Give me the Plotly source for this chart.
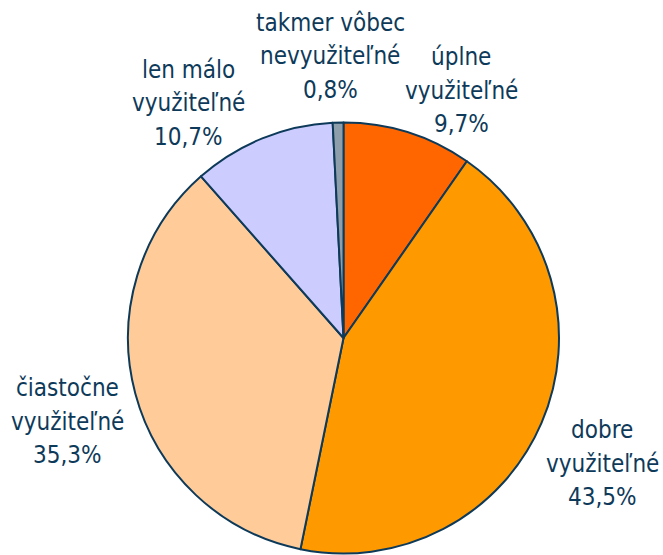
import plotly.graph_objects as go

labels = ["úplne využiteľné", "dobre využiteľné", "čiastočne využiteľné",
          "len málo využiteľné", "takmer vôbec nevyužiteľné"]
values = [9.7, 43.5, 35.3, 10.7, 0.8]
label_lines = [["úplne", "využiteľné"], ["dobre", "využiteľné"],
               ["čiastočne", "využiteľné"], ["len málo", "využiteľné"],
               ["takmer vôbec", "nevyužiteľné"]]
colors = ["#FF6600", "#FF9900", "#FFCC99", "#CCCCFF", "#8E9EAA"]

W, H = 663, 555
cx, cy, r = 343.5, 338, 215.5
# label block centres (pixels) -- layout only
label_pos = [(461, 57), (602, 430), (67, 388), (188, 70), (330, 23)]
line_gap = 33.5
text_color = "#0E3A5A"
font_family = "DejaVu Sans Condensed, Liberation Sans, sans-serif"

fig = go.Figure(go.Pie(
    labels=labels, values=values, sort=False, direction="clockwise", rotation=0,
    marker=dict(colors=colors, line=dict(color="#0E3A5A", width=2)),
    textinfo="none", hoverinfo="label+percent", showlegend=False,
    domain=dict(x=[(cx - r) / W, (cx + r) / W], y=[(H - cy - r) / H, (H - cy + r) / H]),
))

annotations = []
for lines, v, (px, py) in zip(label_lines, values, label_pos):
    all_lines = lines + [f"{v:.1f}%".replace(".", ",")]
    for i, t in enumerate(all_lines):
        y = py + i * line_gap
        annotations.append(dict(
            text=t, x=px / W, y=1 - y / H, xref="paper", yref="paper",
            xanchor="center", yanchor="middle", showarrow=False,
            font=dict(family=font_family, size=24, color=text_color)))

fig.update_layout(width=W, height=H, margin=dict(l=0, r=0, t=0, b=0),
                  paper_bgcolor="white", plot_bgcolor="white",
                  annotations=annotations)

fig.write_html("out.html", config={"displayModeBar": False},
               post_script="document.body.style.margin='0';")
